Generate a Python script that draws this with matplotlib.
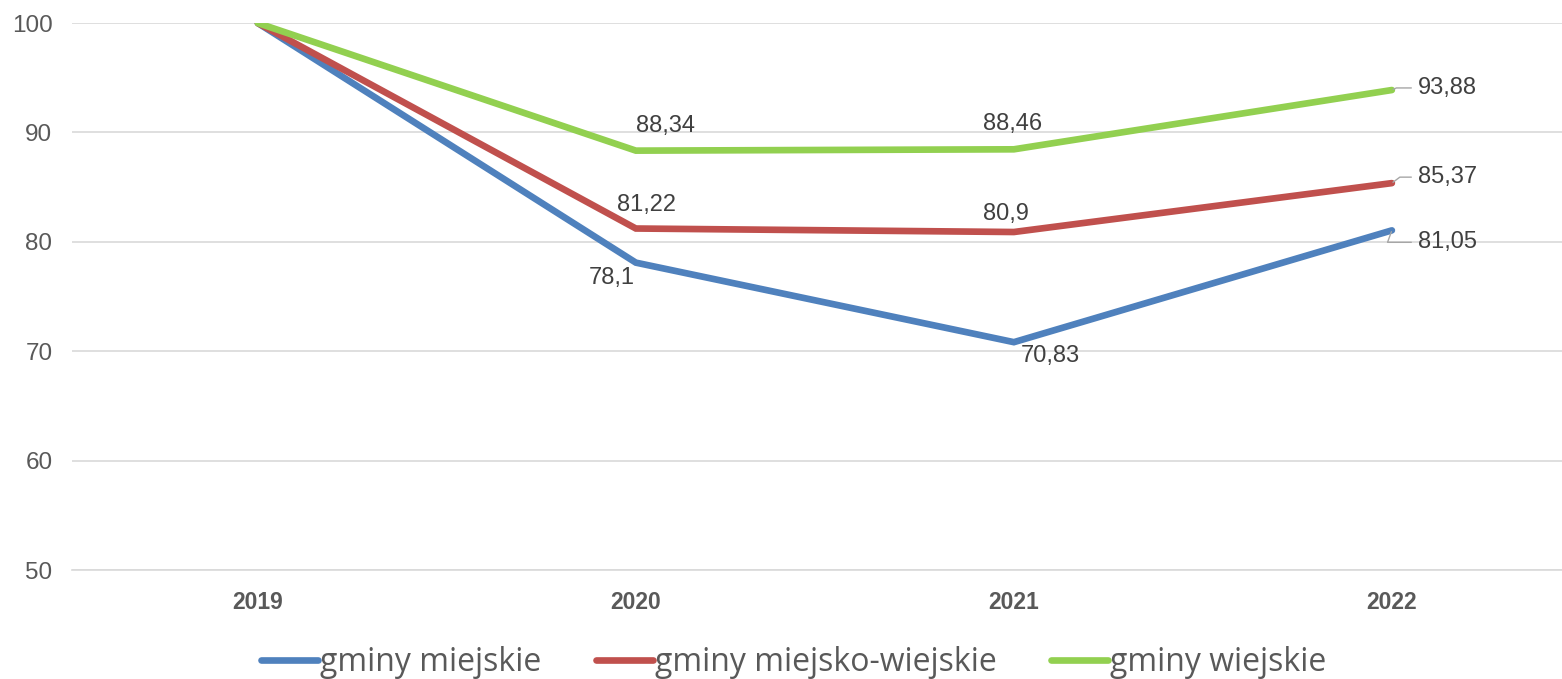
import matplotlib.pyplot as plt

years = ["2019", "2020", "2021", "2022"]
miejskie = [100, 78.1, 70.83, 81.05]
miejsko_wiejskie = [100, 81.22, 80.9, 85.37]
wiejskie = [100, 88.34, 88.46, 93.88]
names = ["gminy miejskie", "gminy miejsko-wiejskie", "gminy wiejskie"]
colors = ["#4F81BD", "#C0504D", "#92D050"]

# label offsets in points (dx, dy) for 2020, 2021; last one is left-aligned with a leader
offsets = [
    [(-17, -11), (26, -10), (19, -8.6)],
    [(8, 17), (-6, 13), (19, 4.3)],
    [(21, 18), (-1, 18), (19, 1.5)],
]
leader_angles = [70, 37, 25]

plt.rcParams['font.family'] = ['Liberation Sans', 'DejaVu Sans']
fig = plt.figure(figsize=(15.62, 6.79), dpi=100)
ax = fig.add_axes([0.046, 0.1605, 0.954, 0.8055])

x = list(range(len(years)))
series = [miejskie, miejsko_wiejskie, wiejskie]
for s, name, c, offs, ang in zip(series, names, colors, offsets, leader_angles):
    ax.plot(x, s, color=c, lw=4.8, label=name, solid_capstyle='round', solid_joinstyle='miter', zorder=3)
    for i in range(1, 4):
        txt = f"{s[i]:g}".replace(".", ",")
        dx, dy = offs[i - 1]
        if i == 3:
            ax.annotate(txt, (x[i], s[i]), xytext=(dx, dy), textcoords='offset points',
                        ha='left', va='center', fontsize=17, color='#404040',
                        arrowprops=dict(arrowstyle='-', color='#A6A6A6', lw=1,
                                        shrinkA=3, shrinkB=1, relpos=(0, 0.5),
                                        connectionstyle=f'angle,angleA=0,angleB={ang},rad=0'))
        else:
            ax.annotate(txt, (x[i], s[i]), xytext=(dx, dy), textcoords='offset points',
                        ha='center', va='center', fontsize=17, color='#404040')

ax.set_xlim(-0.492, 3.45)
ax.set_ylim(50, 100)
ax.set_yticks(range(50, 101, 10))
ax.set_xticks(x)
ax.set_xticklabels(years, fontweight='bold', fontsize=16.5)
ax.tick_params(axis='y', labelsize=17.5, colors='#595959', length=0, pad=14)
ax.tick_params(axis='x', colors='#595959', length=0, pad=15)
ax.grid(axis='y', color='#D9D9D9', lw=1.2)
ax.set_axisbelow(True)
for side in ['top', 'right', 'left']:
    ax.spines[side].set_visible(False)
ax.spines['bottom'].set_color('#D9D9D9')
ax.spines['bottom'].set_linewidth(1.2)

leg = fig.legend(loc='lower center', bbox_to_anchor=(0.508, -0.043), ncol=3, frameon=False,
                 prop={'family': 'Open Sans', 'size': 23}, handlelength=1.8,
                 handletextpad=0.05, columnspacing=1.7)
for t in leg.get_texts():
    t.set_color('#595959')

fig.savefig("out.png", dpi=100)
